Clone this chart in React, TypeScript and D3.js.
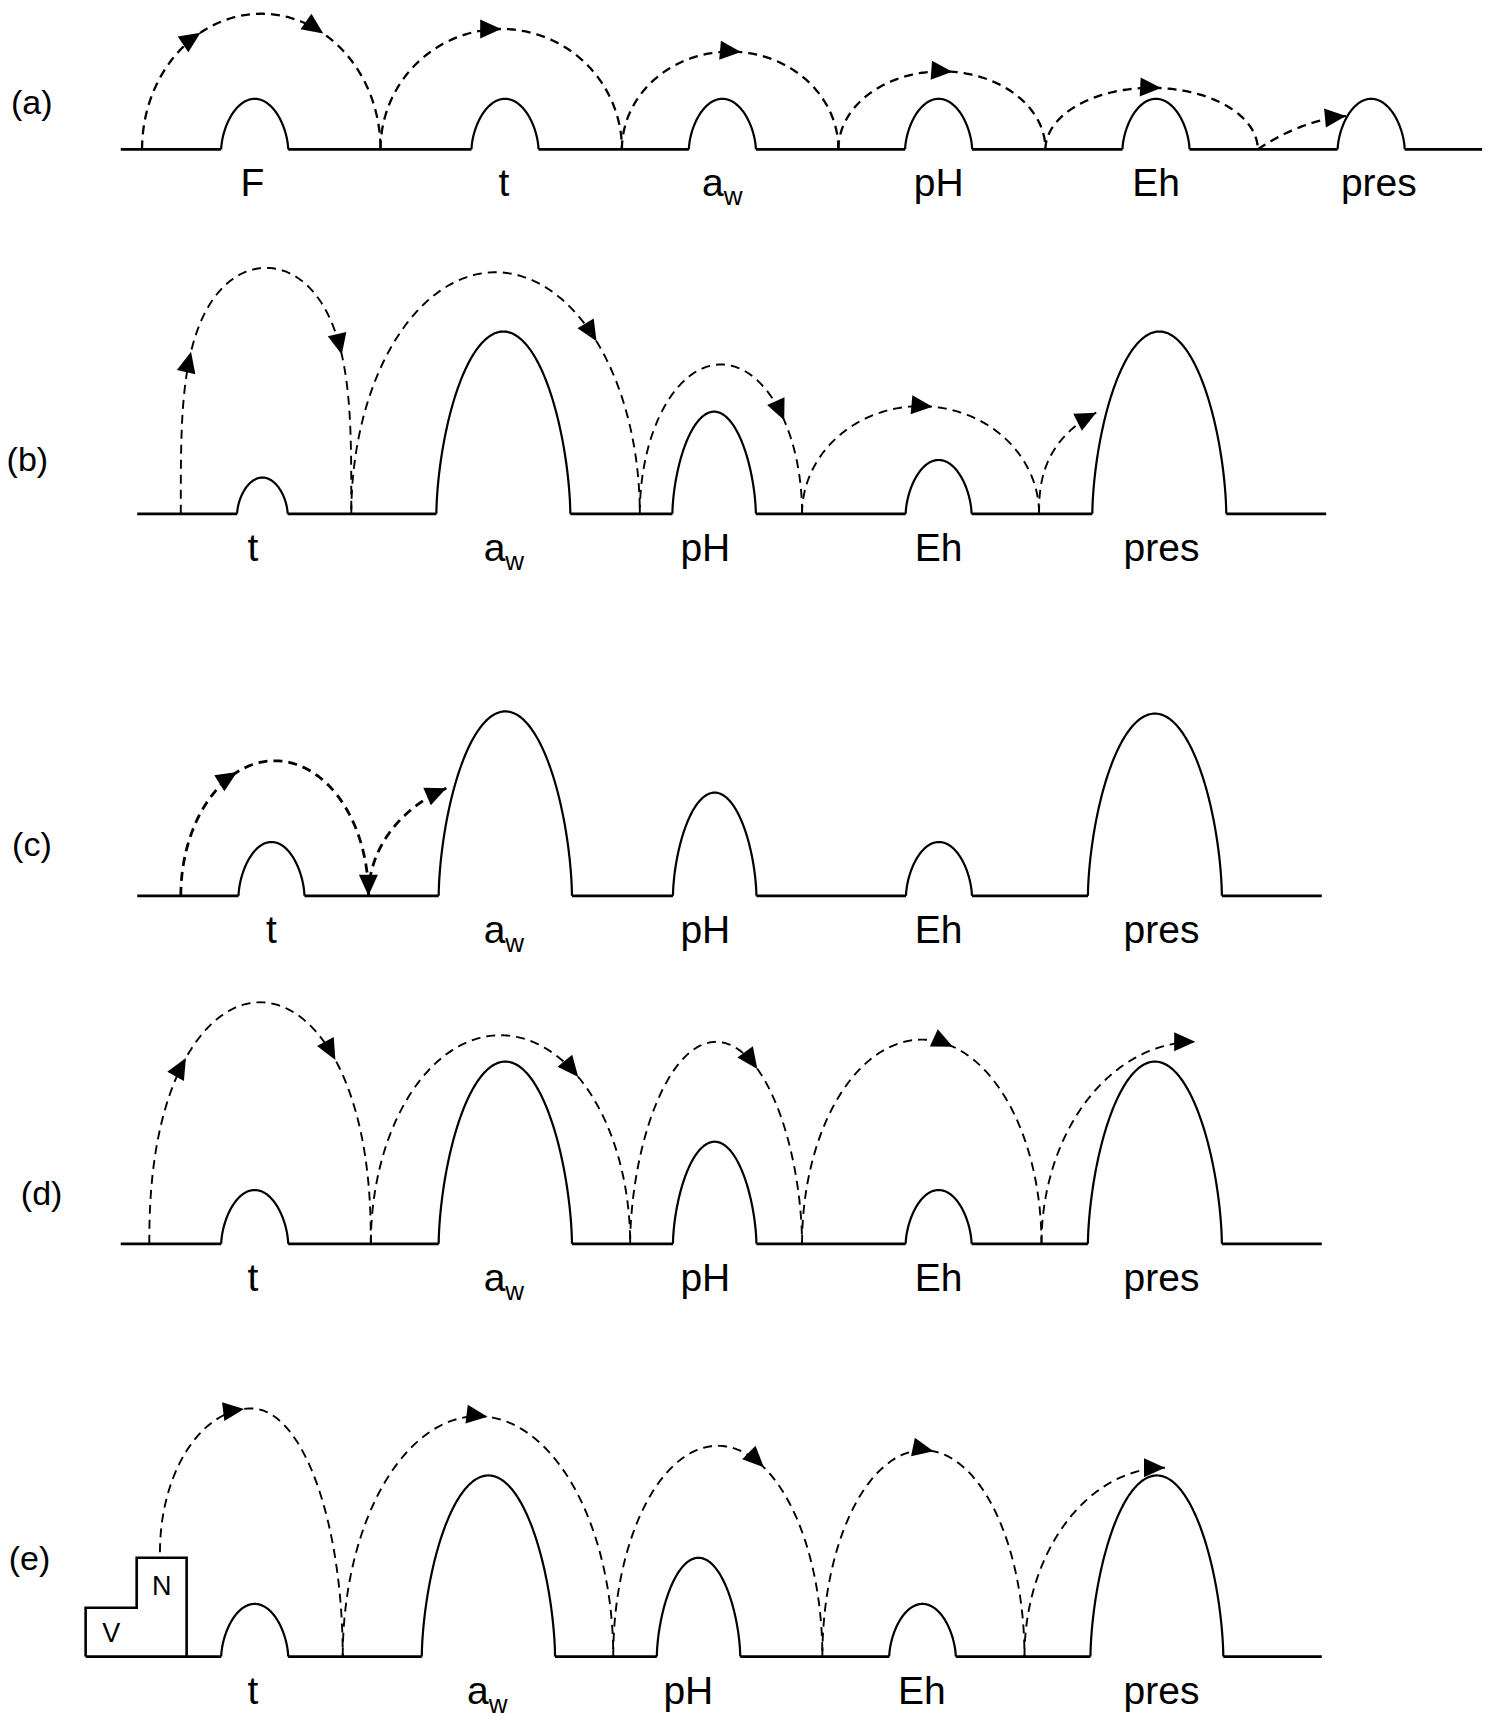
import React from 'react';
import * as d3 from 'd3';

const WIDTH = 1504;
const HEIGHT = 1721;
const REF = 1370; // reference units across the figure

// ---------- data ----------
const panelTags = ['(a)', '(b)', '(c)', '(d)', '(e)'];

const factorsA = ['F', 't', 'aw', 'pH', 'Eh', 'pres'];
const factorsBE = ['t', 'aw', 'pH', 'Eh', 'pres'];

// hurdle heights (relative strength of each hurdle)
const hurdleHeightA = [46, 46, 46, 46, 46, 46];
const hurdleHeightB = [33, 166, 93, 49, 166];
const hurdleHeightC = [49, 168, 94, 49, 166];
const hurdleHeightD = [49, 166, 93, 49, 166];
const hurdleHeightE = [48, 165, 90, 48, 165];

// hurdle centre along the chain and half-width
const hurdleCentreA = [232, 460, 658, 855, 1053, 1249];
const hurdleCentreB = [239, 458.5, 650.5, 855, 1056];
const hurdleCentreC = [247.3, 460.3, 651, 855.3, 1052];
const hurdleCentreD = [232, 460.3, 651, 855, 1052];
const hurdleCentreE = [232, 444.9, 636.3, 840.3, 1053.8];

const hurdleHalfA = [30.5, 30.5, 30.5, 30.5, 30.5, 30.5];
const hurdleHalfB = [23, 61, 38, 30, 61];
const hurdleHalfC = [30, 60.7, 38, 30, 61];
const hurdleHalfD = [30.5, 60.7, 38, 30, 61];
const hurdleHalfE = [30.5, 60.7, 38, 30.3, 60.5];

const labelXA = [230, 459, 658, 855, 1053, 1256];
const labelXB = [230.5, 459, 642.5, 855, 1058];
const labelXC = [247.3, 459, 642.5, 855, 1058];
const labelXD = [230.5, 459, 642.5, 855, 1058];
const labelXE = [230.5, 443.8, 627, 839.7, 1058];

type Arc = { x0: number; x1: number; h: number; p?: number; lift?: number; tEnd?: number; arrows: number[] };

// microorganism "jumps" over the hurdles (dashed arrows)
const jumpsA: Arc[] = [
  { x0: 129.4, x1: 346.6, h: 123.5, arrows: [0.245, 0.76] },
  { x0: 346.6, x1: 566.5, h: 109.6, arrows: [0.5] },
  { x0: 566.5, x1: 763.7, h: 89, arrows: [0.55] },
  { x0: 763.7, x1: 952.3, h: 71, arrows: [0.55] },
  { x0: 952.3, x1: 1145.7, h: 56, arrows: [0.545] },
  { x0: 1145.7, x1: 1333.7, h: 31, p: 1, tEnd: 0.427, arrows: [0.427] },
];
const jumpsB: Arc[] = [
  { x0: 164.7, x1: 320, h: 224, p: 0.28, arrows: [0.06, 0.944] },
  { x0: 320, x1: 582.8, h: 220, arrows: [0.85] },
  { x0: 582.8, x1: 730.6, h: 136, arrows: [0.89] },
  { x0: 730.6, x1: 946.5, h: 98, arrows: [0.55] },
  { x0: 946.5, x1: 1186.5, h: 107.5, p: 0.4, tEnd: 0.217, arrows: [0.217] },
];
const jumpsC: Arc[] = [
  { x0: 164.7, x1: 335.6, h: 123, arrows: [0.3, 1] },
  { x0: 335.6, x1: 595.6, h: 110, tEnd: 0.273, arrows: [0.273] },
];
const jumpsD: Arc[] = [
  { x0: 136, x1: 337.8, h: 220, p: 0.44, arrows: [0.165, 0.84] },
  { x0: 337.8, x1: 574, h: 190, arrows: [0.8] },
  { x0: 574, x1: 730.6, h: 184, p: 0.55, arrows: [0.74] },
  { x0: 730.6, x1: 948.7, h: 186, arrows: [0.63] },
  { x0: 948.7, x1: 1228.7, h: 184, tEnd: 0.5, arrows: [0.5] },
];
const jumpsE: Arc[] = [
  { x0: 145.7, x1: 312.2, h: 226, lift: 95, arrows: [0.46] },
  { x0: 312.2, x1: 558.6, h: 219, arrows: [0.535] },
  { x0: 558.6, x1: 749.1, h: 192, arrows: [0.72] },
  { x0: 749.1, x1: 933.2, h: 188, arrows: [0.55] },
  { x0: 933.2, x1: 1189.2, h: 172, tEnd: 0.5, arrows: [0.5] },
];

// initial microbial population (V = vegetative, N = number) in panel (e)
const startBoxLabels = ['V', 'N'];
const startBoxHeights = [44.5, 90];

// ---------- layout (reference units) ----------
const panelBase = [136, 468, 816, 1133, 1509];
const panelLine = [[110, 1350], [125, 1208], [125, 1204], [110, 1204], [78, 1204]];
const panelTagXY = [[10, 93], [6, 418], [11, 769], [19, 1087], [8, 1419]];
const dashWidth = [2.3, 1.9, 2.8, 1.9, 1.9];
const boxEdges = [78, 124.5, 170];

const panels = [
  { factors: factorsA, heights: hurdleHeightA, centres: hurdleCentreA, halves: hurdleHalfA, labelX: labelXA, jumps: jumpsA },
  { factors: factorsBE, heights: hurdleHeightB, centres: hurdleCentreB, halves: hurdleHalfB, labelX: labelXB, jumps: jumpsB },
  { factors: factorsBE, heights: hurdleHeightC, centres: hurdleCentreC, halves: hurdleHalfC, labelX: labelXC, jumps: jumpsC },
  { factors: factorsBE, heights: hurdleHeightD, centres: hurdleCentreD, halves: hurdleHalfD, labelX: labelXD, jumps: jumpsD },
  { factors: factorsBE, heights: hurdleHeightE, centres: hurdleCentreE, halves: hurdleHalfE, labelX: labelXE, jumps: jumpsE },
];

const s = d3.scaleLinear().domain([0, REF]).range([0, WIDTH]);
const line = d3.line<[number, number]>().x((d) => s(d[0])).y((d) => s(d[1]));
const FONT = "'Liberation Sans', Arial, Helvetica, sans-serif";

function hurdlePath(c: number, hw: number, h: number, base: number) {
  const p = 0.6;
  const pts: [number, number][] = d3.range(0, 161).map((i) => {
    const th = (Math.PI * i) / 160;
    const u = -Math.cos(th);
    return [c + hw * u, base - h * Math.pow(Math.sin(th), 2 * p)];
  });
  return line(pts) as string;
}

function arcPoint(a: Arc, base: number, th: number): [number, number] {
  const p = a.p ?? 0.5;
  const u = -Math.cos(th);
  const xc = (a.x0 + a.x1) / 2;
  const rx = (a.x1 - a.x0) / 2;
  const peak = base - a.h;
  const sideBase = u < 0 ? base - (a.lift ?? 0) : base;
  const f = Math.pow(Math.max(0, Math.sin(th)), 2 * p);
  return [xc + rx * u, sideBase - (sideBase - peak) * f];
}

const thOf = (t: number) => Math.acos(Math.max(-1, Math.min(1, -(2 * t - 1))));

function arcPath(a: Arc, base: number) {
  const thEnd = thOf(a.tEnd ?? 1);
  const pts = d3.range(0, 201).map((i) => arcPoint(a, base, (thEnd * i) / 200));
  return line(pts) as string;
}

function arrowHead(a: Arc, base: number, t: number) {
  const th = thOf(t);
  const d = 0.004;
  const p0 = arcPoint(a, base, Math.max(0, th - d));
  const p1 = arcPoint(a, base, Math.min(Math.PI, th + d));
  const tip = arcPoint(a, base, th);
  let dx = s(p1[0]) - s(p0[0]);
  let dy = s(p1[1]) - s(p0[1]);
  const len = Math.hypot(dx, dy) || 1;
  dx /= len;
  dy /= len;
  const L = 21;
  const w = 9.5;
  const tx = s(tip[0]);
  const ty = s(tip[1]);
  const bx = tx - L * dx;
  const by = ty - L * dy;
  const pts = [
    [tx, ty],
    [bx - w * dy, by + w * dx],
    [bx + w * dy, by - w * dx],
  ];
  return pts.map((q) => q.join(',')).join(' ');
}

function Label({ text, x, y }: { text: string; x: number; y: number }) {
  if (text === 'aw') {
    return (
      <text x={x} y={y} textAnchor="middle" fontFamily={FONT} fontSize={39}>
        <tspan>a</tspan>
        <tspan fontSize={26} dy={9}>w</tspan>
      </text>
    );
  }
  return (
    <text x={x} y={y} textAnchor="middle" fontFamily={FONT} fontSize={39}>
      {text}
    </text>
  );
}

function Panel({ idx }: { idx: number }) {
  const P = panels[idx];
  const base = panelBase[idx];
  const [lx0, lx1] = panelLine[idx];
  const edges = P.centres.map((c, i) => [c - P.halves[i], c + P.halves[i]]);
  const segs: [number, number][] = [];
  let cur = lx0;
  edges.forEach(([l, r]) => {
    segs.push([cur, l]);
    cur = r;
  });
  segs.push([cur, lx1]);
  const [tx, ty] = panelTagXY[idx];

  return (
    <g>
      <text x={s(tx)} y={s(ty)} dominantBaseline="central" fontFamily={FONT} fontSize={34}>
        {panelTags[idx]}
      </text>
      {segs.map(([a, b], i) => (
        <path key={'s' + i} d={line([[a, base], [b, base]]) as string} stroke="#000" strokeWidth={2.8} fill="none" />
      ))}
      {P.centres.map((c, i) => (
        <path key={'h' + i} d={hurdlePath(c, P.halves[i], P.heights[i], base)} stroke="#000" strokeWidth={2.2} fill="none" />
      ))}
      {idx === 4 && (
        <g>
          <path
            d={line([
              [boxEdges[0], base],
              [boxEdges[0], base - startBoxHeights[0]],
              [boxEdges[1], base - startBoxHeights[0]],
              [boxEdges[1], base - startBoxHeights[1]],
              [boxEdges[2], base - startBoxHeights[1]],
              [boxEdges[2], base],
            ]) as string}
            stroke="#000"
            strokeWidth={2.6}
            fill="none"
          />
          <text x={s((boxEdges[0] + boxEdges[1]) / 2)} y={s(base - startBoxHeights[0] / 2) + 10} textAnchor="middle" fontFamily={FONT} fontSize={27}>
            {startBoxLabels[0]}
          </text>
          <text x={s((boxEdges[1] + boxEdges[2]) / 2)} y={s(base - startBoxHeights[1] + 25) + 10} textAnchor="middle" fontFamily={FONT} fontSize={27}>
            {startBoxLabels[1]}
          </text>
        </g>
      )}
      {P.jumps.map((a, i) => (
        <g key={'j' + i}>
          <path d={arcPath(a, base)} stroke="#000" strokeWidth={dashWidth[idx]} strokeDasharray="9,6" fill="none" />
          {a.arrows.map((t, k) => (
            <polygon key={k} points={arrowHead(a, base, t)} fill="#000" />
          ))}
        </g>
      ))}
      {P.factors.map((f, i) => (
        <Label key={'l' + i} text={f} x={s(P.labelX[i])} y={s(base) + 47} />
      ))}
    </g>
  );
}

export default function App() {
  return (
    <svg
      width={WIDTH}
      height={HEIGHT}
      viewBox={`0 0 ${WIDTH} ${HEIGHT}`}
      style={{ position: 'absolute', left: 0, top: 0, background: '#fff' }}
    >
      <rect x={0} y={0} width={WIDTH} height={HEIGHT} fill="#fff" />
      {panelTags.map((_, i) => (
        <Panel key={i} idx={i} />
      ))}
    </svg>
  );
}
